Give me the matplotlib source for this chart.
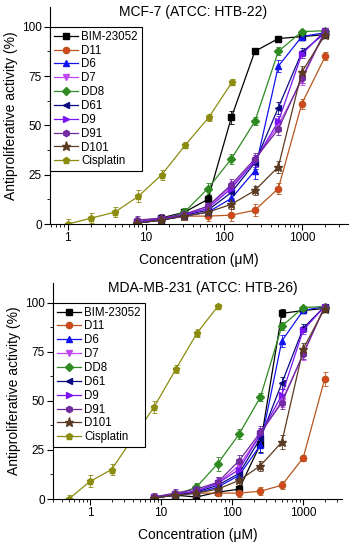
import matplotlib
matplotlib.use("Agg")
import matplotlib.pyplot as plt
from matplotlib.lines import Line2D
from matplotlib.ticker import LogLocator, NullFormatter, FixedLocator, FixedFormatter

plt.rcParams['font.family'] = ['Liberation Sans', 'DejaVu Sans']

# ---------------- data ----------------
conc = [7.8, 15.6, 31.25, 62.5, 125, 250, 500, 1000, 2000]
cis_conc_mcf = [1, 2, 4, 8, 16, 32, 64, 128]
cis_conc_mda = [0.5, 1, 2, 4, 8, 16, 32, 64]

names = ["BIM-23052", "D11", "D6", "D7", "DD8", "D61", "D9", "D91", "D101", "Cisplatin"]

# MCF-7
mcf_bim = [1, 3, 6, 12.5, 54, 87.5, 94, 95, 96]
mcf_d11 = [0.5, 2, 4, 4, 4.5, 7, 18, 61, 85]
mcf_d6 = [0.5, 2, 4, 6, 13, 27, 80, 95, 97]
mcf_d7 = [1, 2.5, 4.5, 9, 19, 32, 50, 73, 98]
mcf_dd8 = [0.5, 2, 6, 18, 33, 52, 87.5, 97.5, 98]
mcf_d61 = [0.5, 2, 4.5, 7, 16, 31, 59, 87, 97]
mcf_d9 = [1, 2.5, 4.5, 8, 18, 32, 52, 86, 98]
mcf_d91 = [2, 3, 5, 9, 20, 33, 48, 74, 98]
mcf_d101 = [0.5, 2, 4, 6, 10, 17, 29, 77, 96]
mcf_cis = [0, 3, 6, 14, 25, 40, 54, 72]

mcf_bim_err = [1.5, 1.5, 1.5, 2, 3.5, 1.5, 1.5, 1, 1]
mcf_d11_err = [1.5, 1.5, 2, 2.5, 3, 3, 3, 2.5, 2]
mcf_d6_err = [1.5, 1.5, 1.5, 2, 3, 4, 3, 1.5, 1]
mcf_d7_err = [1.5, 1.5, 2, 2.5, 3, 3, 3, 2.5, 1.5]
mcf_dd8_err = [1.5, 1.5, 2, 3, 2.5, 2, 2, 1, 1]
mcf_d61_err = [1.5, 1.5, 1.5, 2, 3, 3, 3, 2, 1]
mcf_d9_err = [1.5, 1.5, 2, 2.5, 3, 3, 3, 2, 1]
mcf_d91_err = [2, 2, 2, 2.5, 3, 3, 3, 2.5, 1.5]
mcf_d101_err = [1.5, 1.5, 1.5, 2, 2.5, 2.5, 3, 3, 1.5]
mcf_cis_err = [2.5, 2.5, 2.5, 3, 2.5, 1.5, 2, 1.5]

# MDA-MB-231
mda_bim = [0.5, 2, 1, 3.5, 5, 28, 94.5, 96, 97]
mda_d11 = [0.5, 2, 3, 3, 3, 4, 7, 21, 61]
mda_d6 = [0.5, 2, 3, 6, 12, 27.5, 80.5, 96, 98]
mda_d7 = [1, 2.5, 4, 8, 17, 33, 50, 73.5, 98]
mda_dd8 = [0.5, 2, 6, 18, 33, 52, 88, 97.5, 98]
mda_d61 = [0.5, 2, 3.5, 7, 13, 31, 59, 87, 98]
mda_d9 = [1, 2.5, 4, 8, 15, 33, 53, 86, 98]
mda_d91 = [1, 3, 5, 8.5, 19.5, 34, 49, 74, 98]
mda_d101 = [0.5, 2, 3, 5, 9.5, 17, 29, 76.5, 97]
mda_cis = [0, 9, 15, 31, 47, 66, 84.5, 98.5]

mda_bim_err = [1.5, 1.5, 1.5, 1.5, 2, 4, 2, 1, 1]
mda_d11_err = [1.5, 1.5, 1.5, 1.5, 2, 2, 2, 1.5, 3.5]
mda_d6_err = [1.5, 1.5, 2, 2, 3, 4, 3, 1.5, 1]
mda_d7_err = [1.5, 1.5, 2, 3, 3, 3, 3, 2.5, 1.5]
mda_dd8_err = [1.5, 1.5, 2, 3.5, 2.5, 2, 2, 1, 1]
mda_d61_err = [1.5, 1.5, 1.5, 2, 3, 3, 3, 2, 1]
mda_d9_err = [1.5, 1.5, 2, 2.5, 3, 3, 3, 2, 1]
mda_d91_err = [2, 2, 2, 2.5, 3, 3, 3, 2.5, 1.5]
mda_d101_err = [1.5, 1.5, 1.5, 2, 2.5, 2.5, 3.5, 3, 1.5]
mda_cis_err = [2, 3, 3, 3, 3, 2, 2, 1]

# ---------------- styles ----------------
styles = {
    "BIM-23052": dict(color="#000000", marker="s", mfc="#000000"),
    "D11": dict(color="#B8561E", marker="o", mfc="#D8421C"),
    "D6": dict(color="#1414F0", marker="^", mfc="#1414F0"),
    "D7": dict(color="#C048F0", marker="v", mfc="#C048F0"),
    "DD8": dict(color="#2F8A22", marker="D", mfc="#2F8A22"),
    "D61": dict(color="#0A0A80", marker="<", mfc="#0A0A80"),
    "D9": dict(color="#7A14F0", marker=">", mfc="#7A14F0"),
    "D91": dict(color="#6A2A9A", marker="h", mfc="#7A2AA8"),
    "D101": dict(color="#5A3A22", marker="*", mfc="#5A3A22"),
    "Cisplatin": dict(color="#8C8C10", marker="p", mfc="#8C8C10"),
}

fig = plt.figure(figsize=(3.55, 5.5), dpi=100)
ax1 = fig.add_axes([0.1408, 0.5927, 0.8392, 0.3946])
ax2 = fig.add_axes([0.1493, 0.0927, 0.8137, 0.3928])


def msize(m):
    return 6.5 if m == "*" else (3.6 if m == "D" else 4.5)


def draw(ax, series, errs, cis_x, title, title_x, xlim):
    handles = []
    for name in names:
        st = styles[name]
        x = cis_x if name == "Cisplatin" else conc
        ax.errorbar(x, series[name], yerr=errs[name], color=st["color"], marker=st["marker"],
                    mfc=st["mfc"], mec=st["color"], ms=msize(st["marker"]), lw=0.9,
                    elinewidth=0.6, capsize=1.8, capthick=0.6)
        handles.append(Line2D([], [], color=st["color"], marker=st["marker"], mfc=st["mfc"],
                              mec=st["color"], ms=msize(st["marker"]), lw=0.9, label=name))
    ax.set_xscale("log")
    ax.set_xlim(*xlim)
    ax.set_ylim(0, 110)
    ax.spines["top"].set_visible(False)
    ax.spines["right"].set_visible(False)
    ax.yaxis.set_major_locator(FixedLocator([0, 25, 50, 75, 100]))
    ax.yaxis.set_minor_locator(FixedLocator([12.5, 37.5, 62.5, 87.5]))
    ax.xaxis.set_major_locator(FixedLocator([1, 10, 100, 1000]))
    ax.xaxis.set_major_formatter(FixedFormatter(["1", "10", "100", "1000"]))
    ax.xaxis.set_minor_locator(LogLocator(base=10, subs=range(2, 10), numticks=20))
    ax.xaxis.set_minor_formatter(NullFormatter())
    ax.tick_params(which="major", direction="out", length=4, width=0.8, labelsize=8.5, pad=2)
    ax.tick_params(which="minor", direction="out", length=2, width=0.6)
    ax.set_xlabel("Concentration (\u03bcM)", fontsize=10, labelpad=6)
    ax.set_ylabel("Antiproliferative activity (%)", fontsize=10, labelpad=3)
    ax.text(title_x, 0.975, title, transform=ax.transAxes, ha="center", va="center", fontsize=10)
    leg = ax.legend(handles=handles, loc="upper left", bbox_to_anchor=(0, 100 / 110),
                    borderaxespad=0, fontsize=8.3, frameon=True, fancybox=False,
                    edgecolor="black", framealpha=1, labelspacing=0.16,
                    handlelength=2.1, handletextpad=0.25, borderpad=0.35)
    leg.get_frame().set_linewidth(0.8)
    leg.set_zorder(5)


mcf = dict(zip(names, [mcf_bim, mcf_d11, mcf_d6, mcf_d7, mcf_dd8, mcf_d61, mcf_d9, mcf_d91, mcf_d101, mcf_cis]))
mcf_e = dict(zip(names, [mcf_bim_err, mcf_d11_err, mcf_d6_err, mcf_d7_err, mcf_dd8_err, mcf_d61_err,
                         mcf_d9_err, mcf_d91_err, mcf_d101_err, mcf_cis_err]))
mda = dict(zip(names, [mda_bim, mda_d11, mda_d6, mda_d7, mda_dd8, mda_d61, mda_d9, mda_d91, mda_d101, mda_cis]))
mda_e = dict(zip(names, [mda_bim_err, mda_d11_err, mda_d6_err, mda_d7_err, mda_dd8_err, mda_d61_err,
                         mda_d9_err, mda_d91_err, mda_d101_err, mda_cis_err]))

draw(ax1, mcf, mcf_e, cis_conc_mcf, "MCF-7 (ATCC: HTB-22)", 0.48, (0.59, 3900))
draw(ax2, mda, mda_e, cis_conc_mda, "MDA-MB-231 (ATCC: HTB-26)", 0.52, (0.30, 3500))

fig.savefig("out.png", dpi=100)
